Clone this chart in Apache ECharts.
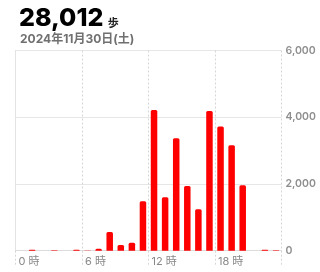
<!DOCTYPE html>
<html><head><meta charset="utf-8">
<script src="https://cdn.jsdelivr.net/npm/echarts@6/dist/echarts.min.js"></script>
<style>html,body{margin:0;padding:0;background:#fff}#c{width:320px;height:272px}</style>
</head><body><div id="c"></div>
<script>
var totalText = '28,012';
var unitText = '歩';
var dateText = '2024年11月30日(土)';
var hours = ['0','1','2','3','4','5','6','7','8','9','10','11','12','13','14','15','16','17','18','19','20','21','22','23'];
var steps = [0, 25, 0, 10, 0, 25, 8, 55, 560, 170, 240, 1480, 4220, 1600, 3370, 1940, 1240, 4190, 3720, 3160, 1960, 0, 25, 12];
var hourTickLabels = {0:'0 時', 6:'6 時', 12:'12 時', 18:'18 時', 24:''};
var yTicks = {0:'0', 2000:'2,000', 4000:'4,000', 6000:'6,000'};

var chart = echarts.init(document.getElementById('c'), null, {renderer:'canvas'});
var font = 'Inter, Roboto, "Noto Sans CJK JP", sans-serif';
chart.setOption({
  animation: false,
  textStyle: {fontFamily: font},
  title: [{
    left: 14, top: 1,
    text: '{a|' + totalText + '} {b|' + unitText + '}',
    textStyle: {rich: {
      a: {fontSize: 25, fontWeight: 800, color: '#000', fontFamily: font},
      b: {fontSize: 11, fontWeight: 'bold', color: '#222', fontFamily: font, verticalAlign: 'bottom', padding:[0,0,2,0]}
    }}
  }, {
    left: 15, top: 28,
    text: dateText,
    textStyle: {fontSize: 12, fontWeight: 'bold', color: '#707070', fontFamily: font}
  }],
  grid: {left: 15.5, right: 38.5, top: 50.5, bottom: 21.3, containLabel: false},
  xAxis: [{
    type: 'category', data: hours, boundaryGap: true,
    axisLine: {show: false}, axisTick: {show: false}, axisLabel: {show: false}, splitLine: {show: false}
  }, {
    type: 'value', min: 0, max: 24, interval: 6, position: 'bottom',
    axisLine: {show: true, lineStyle: {color: '#dcdcdc', width: 1}},
    axisTick: {show: true, length: 16, lineStyle: {color: '#d6d6d6', type: [2, 2]}},
    splitLine: {show: true, lineStyle: {color: '#d6d6d6', type: [2, 2]}},
    axisLabel: {show: true, align: 'left', margin: 5, padding: [0,0,0,3], fontSize: 11, color: '#888',
      formatter: function (v) { return hourTickLabels[v] || ''; }}
  }],
  yAxis: [{
    type: 'value', position: 'right', min: 0, max: 6000, interval: 2000,
    axisLine: {show: true, lineStyle: {color: '#e3e3e3'}},
    axisTick: {show: false},
    splitLine: {show: true, lineStyle: {color: '#e6e6e6'}},
    axisLabel: {margin: 4, fontSize: 10.5, fontWeight: 600, color: '#8e8e8e',
      formatter: function (v) { return yTicks[v] !== undefined ? yTicks[v] : ''; }}
  }, {
    type: 'value', position: 'left', min: 0, max: 6000, interval: 2000,
    axisLine: {show: true, lineStyle: {color: '#e3e3e3'}},
    axisTick: {show: false}, axisLabel: {show: false}, splitLine: {show: false}
  }],
  series: [{
    type: 'bar', xAxisIndex: 0, yAxisIndex: 0, data: steps, barWidth: 6.5,
    itemStyle: {color: '#ff0000', borderRadius: [1.5, 1.5, 0, 0]}
  }]
});
</script></body></html>
